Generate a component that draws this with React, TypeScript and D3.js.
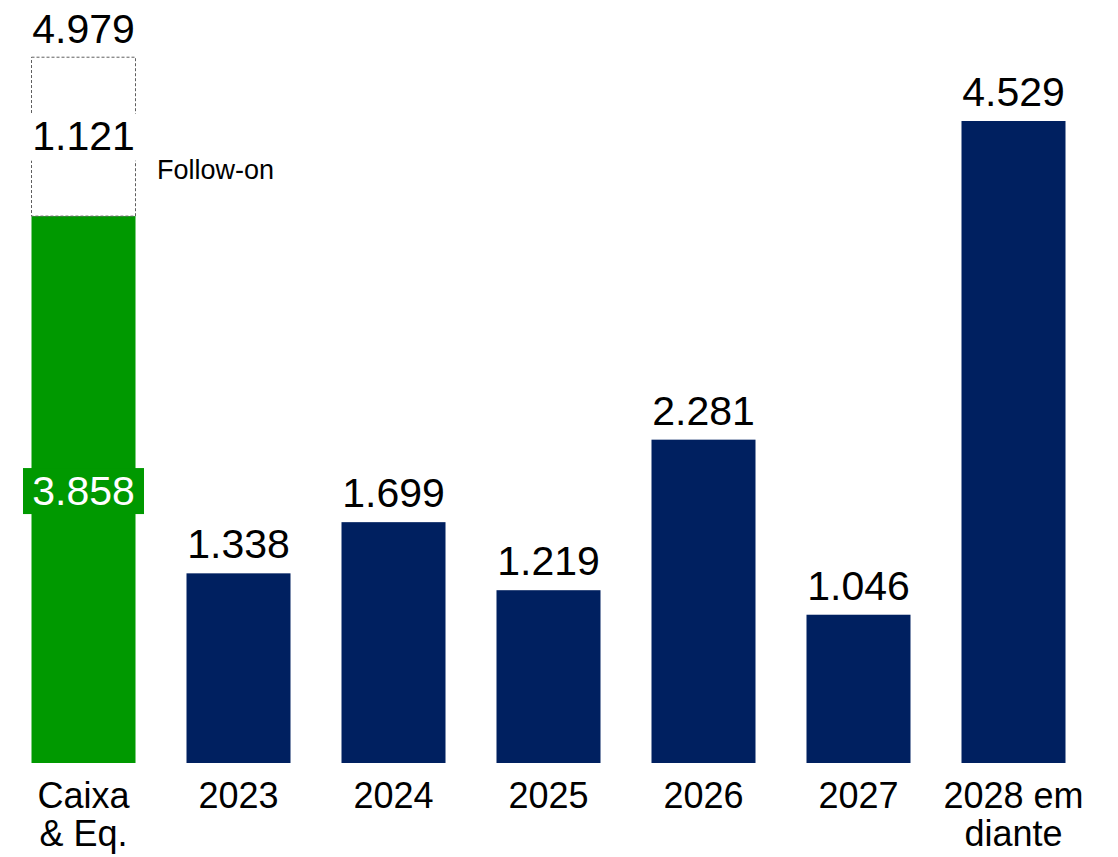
import React from "react";
import * as d3 from "d3";

const categories = ["Caixa\n& Eq.", "2023", "2024", "2025", "2026", "2027", "2028 em\ndiante"];
const debtValues = [0, 1338, 1699, 1219, 2281, 1046, 4529];
const cashValue = 3858;
const followOnValue = 1121;
const totalCash = 4979;
const followOnLabel = "Follow-on";

const fmt = (v: number) => d3.format(",.0f")(v).replace(/,/g, ".");

const W = 1118;
const H = 857;
const BASE = 763;
const FONT = "'Liberation Sans', Arial, Helvetica, sans-serif";
const NAVY = "#002060";
const GREEN = "#009900";
const VFS = 41;

export default function App() {
  const x = d3.scaleBand<string>().domain(categories).range([31.5, 1065.5]).paddingInner(0.329).paddingOuter(0);
  const y = d3.scaleLinear().domain([0, 4529]).range([BASE, 121]);
  const bw = x.bandwidth();

  const cashX = x(categories[0])!;
  const cashTop = y(cashValue);
  const totalTop = y(totalCash);
  const cashMid = (cashTop + BASE) / 2;
  const foMid = (totalTop + cashTop) / 2;

  return (
    <svg width={W} height={H} style={{ position: "absolute", left: 0, top: 0, background: "#fff" }} fontFamily={FONT}>
      {/* Cash bar */}
      <rect x={cashX} y={cashTop} width={bw} height={BASE - cashTop} fill={GREEN} />
      {/* Follow-on dashed box */}
      <rect
        x={cashX}
        y={totalTop}
        width={bw}
        height={cashTop - totalTop}
        fill="none"
        stroke="#5f5f5f"
        strokeWidth={1}
        strokeDasharray="3,2"
      />
      {/* Follow-on label background */}
      <rect x={cashX - 9} y={foMid - 23} width={bw + 18} height={47} fill="#fff" />
      <text x={cashX + bw / 2} y={foMid + 13} textAnchor="middle" fontSize={VFS} fill="#000">
        {fmt(followOnValue)}
      </text>
      <text x={157} y={179} fontSize={27} fill="#000">
        {followOnLabel}
      </text>
      {/* total label */}
      <text x={cashX + bw / 2} y={totalTop - 14} textAnchor="middle" fontSize={VFS} fill="#000">
        {fmt(totalCash)}
      </text>
      {/* cash label on green box */}
      <rect x={cashX - 8.5} y={cashMid - 21.5} width={bw + 17} height={46} fill={GREEN} />
      <text x={cashX + bw / 2} y={cashMid + 15} textAnchor="middle" fontSize={VFS} fill="#fff">
        {fmt(cashValue)}
      </text>

      {/* debt bars */}
      {categories.slice(1).map((c, i) => {
        const v = debtValues[i + 1];
        const bx = x(c)!;
        return (
          <g key={c}>
            <rect x={bx} y={y(v)} width={bw} height={BASE - y(v)} fill={NAVY} />
            <text x={bx + bw / 2} y={y(v) - 15} textAnchor="middle" fontSize={VFS} fill="#000">
              {fmt(v)}
            </text>
          </g>
        );
      })}

      {/* category labels */}
      {categories.map((c) => {
        const lines = c.split("\n");
        return (
          <text key={c} x={x(c)! + bw / 2} y={808} textAnchor="middle" fontSize={36} fill="#000">
            {lines.map((l, j) => (
              <tspan key={j} x={x(c)! + bw / 2} dy={j === 0 ? 0 : 38}>
                {l}
              </tspan>
            ))}
          </text>
        );
      })}
    </svg>
  );
}
